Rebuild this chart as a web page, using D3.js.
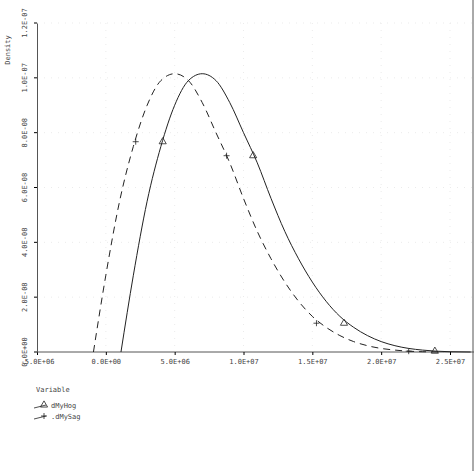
<!DOCTYPE html><html><head><script src="https://cdn.jsdelivr.net/npm/d3@7"></script>
<style>body{margin:0;background:#fff}text{font-family:"DejaVu Sans Mono",monospace;font-size:7px;fill:#444}</style></head><body>
<svg id="c" width="474" height="471"></svg>
<script>
const xTicks=[-5e6,0,5e6,1e7,1.5e7,2e7,2.5e7];
const xTickLabels=["-5.0E+06","0.0E+00","5.0E+06","1.0E+07","1.5E+07","2.0E+07","2.5E+07"];
const yTicks=[0,2e-8,4e-8,6e-8,8e-8,1e-7,1.2e-7];
const yTickLabels=["0.0E+00","2.0E-08","4.0E-08","6.0E-08","8.0E-08","1.0E-07","1.2E-07"];
const hogX=[1.1,2,3,4,5,6,7,8,9,10,11,12,13,14,15,16,17,18,19,20,21,22,23,24,25,26.5];
const hogY=[0,2.8,5.5,7.5,9.0,9.9,10.15,9.9,9.1,8.0,6.9,5.6,4.4,3.4,2.55,1.85,1.3,0.9,0.6,0.38,0.23,0.13,0.07,0.03,0.01,0];
const sagX=[-0.9,0,1,2,3,4,5,6,7,8,9,10,11,12,13,14,15,16,17,18,19,20,21,22,23,24.5];
const sagY=[0,2.8,5.5,7.5,9.0,9.9,10.15,9.9,9.1,8.0,6.9,5.6,4.4,3.4,2.55,1.85,1.3,0.9,0.6,0.38,0.23,0.13,0.07,0.03,0.01,0];
const hogMX=[4.13,10.7,17.3,23.9], hogMY=[7.67,7.16,1.05,0.03];
const sagMX=[2.17,8.77,15.3,22.0], sagMY=[7.67,7.16,1.05,0.03];
const svg=d3.select("#c");
const x=d3.scaleLinear().domain([-5e6,2.5e7]).range([37,450]);
const y=d3.scaleLinear().domain([0,1.2e-7]).range([352,23]);
const g=svg.append("g");
g.selectAll(".gx").data(xTicks.slice(1)).enter().append("line").attr("x1",d=>x(d)).attr("x2",d=>x(d)).attr("y1",23).attr("y2",352).attr("stroke","#e2e2e2").attr("stroke-dasharray","1,6").attr("stroke-width",0.7);
g.selectAll(".gy").data(yTicks.slice(1)).enter().append("line").attr("x1",37).attr("x2",474).attr("y1",d=>y(d)).attr("y2",d=>y(d)).attr("stroke","#e2e2e2").attr("stroke-dasharray","1,6").attr("stroke-width",0.7);
const xa=svg.append("g").attr("transform","translate(0,352)").call(d3.axisBottom(x).tickValues(xTicks).tickFormat((d,i)=>xTickLabels[i]).tickSize(3).tickSizeOuter(0));
xa.select(".domain").attr("d","M37,0H474").attr("stroke","#555");
xa.selectAll("text").attr("dy","0.9em");
const ya=svg.append("g").attr("transform","translate(37,0)").call(d3.axisLeft(y).tickValues(yTicks).tickFormat((d,i)=>yTickLabels[i]).tickSize(3).tickSizeOuter(0));
ya.select(".domain").attr("stroke","#555");
ya.selectAll(".tick").attr("transform",null);
ya.selectAll(".tick line").attr("y1",d=>y(d)).attr("y2",d=>y(d));
ya.selectAll(".tick text").attr("transform",d=>`rotate(-90,-8,${y(d)})`).attr("x",-8).attr("y",d=>y(d)).attr("dy","-0.3em").attr("text-anchor","middle");
svg.append("line").attr("x1",473).attr("x2",473).attr("y1",0).attr("y2",471).attr("stroke","#555");
svg.append("text").attr("transform","translate(10,50) rotate(-90)").text("Density").attr("text-anchor","middle");
const line=d3.line().x(d=>x(d[0]*1e6)).y(d=>y(d[1]*1e-8)).curve(d3.curveMonotoneX);
svg.append("path").attr("d",line(hogX.map((v,i)=>[v,hogY[i]]))).attr("fill","none").attr("stroke","#222").attr("stroke-width",1);
svg.append("path").attr("d",line(sagX.map((v,i)=>[v,sagY[i]]))).attr("fill","none").attr("stroke","#222").attr("stroke-width",1).attr("stroke-dasharray","7,5");
const tri=d3.symbol().type(d3.symbolTriangle).size(22);
svg.selectAll(".mh").data(hogMX).enter().append("path").attr("d",tri).attr("transform",(d,i)=>`translate(${x(d*1e6)},${y(hogMY[i]*1e-8)})`).attr("fill","none").attr("stroke","#222").attr("stroke-width",0.8);
svg.selectAll(".ms").data(sagMX).enter().append("path").attr("d","M-3,0H3M0,-3V3").attr("transform",(d,i)=>`translate(${x(d*1e6)},${y(sagMY[i]*1e-8)})`).attr("stroke","#222").attr("stroke-width",0.8);
svg.append("text").attr("x",36).attr("y",392).text("Variable");
const lg=[["dMyHog",0],["dMySag",1]];
lg.forEach(([t,i])=>{const yy=406+i*11;
 svg.append("line").attr("x1",34).attr("x2",46).attr("y1",yy+2).attr("y2",yy-1).attr("stroke","#222").attr("stroke-width",0.8);
 if(i==0) svg.append("path").attr("d",tri).attr("transform",`translate(44,${yy-1})`).attr("fill","none").attr("stroke","#222").attr("stroke-width",0.8);
 else svg.append("path").attr("d","M-3,0H3M0,-3V3").attr("transform",`translate(44,${yy-1})`).attr("stroke","#222").attr("stroke-width",0.8);
 svg.append("text").attr("x",51).attr("y",yy+2).text((i?".":"")+t);});
</script></body></html>
